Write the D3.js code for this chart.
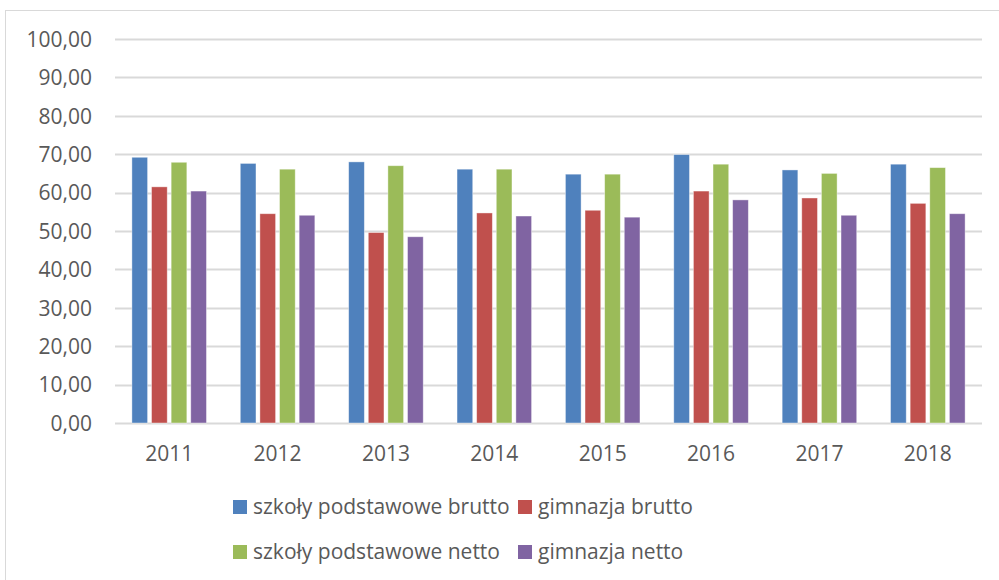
<!DOCTYPE html>
<html>
<head>
<meta charset="utf-8">
<script src="https://cdn.jsdelivr.net/npm/d3@7"></script>
<style>
  html, body { margin: 0; padding: 0; background: #fff; }
  svg { display: block; font-family: "Open Sans", "Liberation Sans", sans-serif; }
</style>
</head>
<body>
<svg id="chart" width="999" height="580"></svg>
<script>
const years = ["2011", "2012", "2013", "2014", "2015", "2016", "2017", "2018"];
const seriesNames = ["szkoły podstawowe brutto", "gimnazja brutto", "szkoły podstawowe netto", "gimnazja netto"];
const spBrutto = [69.2, 67.6, 68.0, 66.1, 64.8, 69.9, 65.9, 67.4];
const gBrutto  = [61.5, 54.5, 49.6, 54.7, 55.4, 60.4, 58.6, 57.2];
const spNetto  = [67.9, 66.1, 67.0, 66.1, 64.8, 67.4, 65.0, 66.5];
const gNetto   = [60.4, 54.1, 48.5, 53.9, 53.6, 58.1, 54.1, 54.5];
const yTicks = [0, 10, 20, 30, 40, 50, 60, 70, 80, 90, 100];
const colors = ["#4F81BD", "#C0504D", "#9BBB59", "#8064A2"];

const seriesValues = [spBrutto, gBrutto, spNetto, gNetto];
const svg = d3.select("#chart");
const textColor = "#595959";
const fontSize = "21px";

// chart border
svg.append("rect").attr("x", 5.5).attr("y", 10.5).attr("width", 1010).attr("height", 600)
  .attr("fill", "none").attr("stroke", "#D9D9D9").attr("stroke-width", 1);

const plot = { left: 115, right: 982, top: 39, bottom: 423 };
const x = d3.scaleBand().domain(years).range([plot.left, plot.right]).paddingInner(0).paddingOuter(0);
const y = d3.scaleLinear().domain([0, 100]).range([plot.bottom, plot.top]);
const groupWidth = x.bandwidth() * 0.688;
const xs = d3.scaleBand().domain(d3.range(4)).range([0, groupWidth]).paddingInner(0.2).paddingOuter(0);

// gridlines
svg.append("g").selectAll("line").data(yTicks).join("line")
  .attr("x1", plot.left).attr("x2", plot.right)
  .attr("y1", d => Math.round(y(d)) + 0.5).attr("y2", d => Math.round(y(d)) + 0.5)
  .attr("stroke", "#D9D9D9").attr("stroke-width", 2);

// y axis labels
const yAxis = d3.axisLeft(y).tickValues(yTicks).tickSize(0).tickPadding(0)
  .tickFormat(d => d3.format(".2f")(d).replace(".", ","));
const yg = svg.append("g").attr("transform", `translate(92,0)`).call(yAxis);
yg.select(".domain").remove();
yg.selectAll("text").attr("fill", textColor).style("font-size", fontSize)
  .style("font-family", "'Open Sans', sans-serif").attr("dy", "0.35em").attr("x", 0);

// bars
const groups = svg.append("g").selectAll("g").data(years).join("g")
  .attr("transform", d => `translate(${x(d) + (x.bandwidth() - groupWidth) / 2},0)`);
groups.selectAll("rect").data((d, i) => seriesValues.map((s, k) => ({ k, v: s[i] }))).join("rect")
  .attr("x", d => xs(d.k)).attr("width", xs.bandwidth())
  .attr("y", d => y(d.v)).attr("height", d => y(0) - y(d.v))
  .attr("fill", d => colors[d.k])
  .attr("stroke", "#ffffff").attr("stroke-opacity", 0.5).attr("stroke-width", 0.8);

// x axis labels
const xAxis = d3.axisBottom(x).tickSize(0).tickPadding(0);
const xg = svg.append("g").attr("transform", `translate(0,${plot.bottom})`).call(xAxis);
xg.select(".domain").remove();
xg.selectAll("text").attr("fill", textColor).style("font-size", fontSize)
  .style("font-family", "'Open Sans', sans-serif").attr("dy", null).attr("y", 38);

// legend
const legendPos = [[233, 500], [518, 500], [233, 545], [518, 545]];
const lg = svg.append("g").selectAll("g").data(seriesNames).join("g")
  .attr("transform", (d, i) => `translate(${legendPos[i][0]},${legendPos[i][1]})`);
lg.append("rect").attr("width", 14).attr("height", 14).attr("fill", (d, i) => colors[i]);
lg.append("text").attr("x", 20).attr("y", 14).attr("fill", textColor)
  .style("font-size", fontSize).text(d => d);
</script>
</body>
</html>
